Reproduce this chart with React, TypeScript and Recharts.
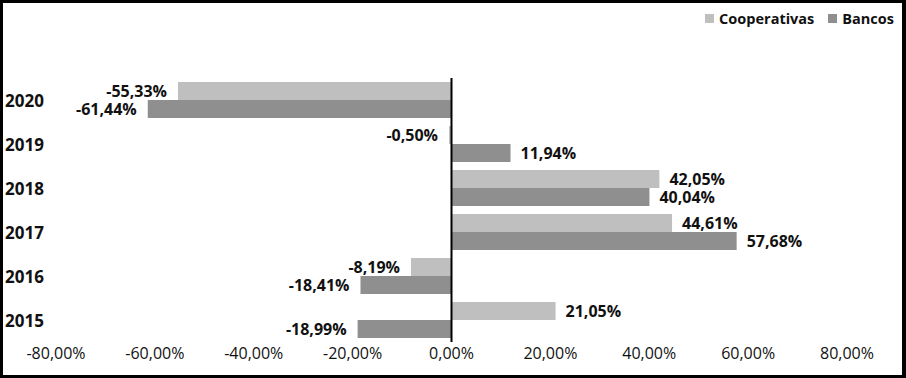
import { BarChart, Bar, XAxis, YAxis, ReferenceLine, LabelList, Legend } from 'recharts';

const years = ['2020', '2019', '2018', '2017', '2016', '2015'];
const cooperativas = [-55.33, -0.5, 42.05, 44.61, -8.19, 21.05];
const bancos = [-61.44, 11.94, 40.04, 57.68, -18.41, -18.99];
const xTicks = [-80, -60, -40, -20, 0, 20, 40, 60, 80];

const COOP_COLOR = '#bfbfbf';
const BANK_COLOR = '#8f8f8f';
const FONT = '"Open Sans", sans-serif';

const data = years.map((year, i) => ({
  year,
  Cooperativas: cooperativas[i],
  Bancos: bancos[i],
}));

const pct = (v: number) => v.toFixed(2).replace('.', ',') + '%';

function ValueLabel(props: any) {
  const x = Number(props.x);
  const y = Number(props.y);
  const width = Number(props.width);
  const height = Number(props.height);
  const value = Number(props.value);
  const neg = value < 0;
  const left = Math.min(x, x + width);
  const right = Math.max(x, x + width);
  return (
    <text
      x={neg ? left - 11 : right + 10}
      y={y + height / 2}
      textAnchor={neg ? 'end' : 'start'}
      dominantBaseline="central"
      fontFamily={FONT}
      fontWeight={700}
      fontSize={16}
      fill="#111"
    >
      {pct(value)}
    </text>
  );
}

function YearTick(props: any) {
  const { y, payload } = props;
  return (
    <text x={2} y={y} dominantBaseline="central" fontFamily={FONT} fontWeight={700} fontSize={17} fill="#111">
      {payload.value}
    </text>
  );
}

function LegendContent() {
  const items = [
    { name: 'Cooperativas', color: COOP_COLOR },
    { name: 'Bancos', color: BANK_COLOR },
  ];
  return (
    <div style={{ display: 'flex', justifyContent: 'flex-end', height: 20, alignItems: 'center', fontFamily: FONT, fontWeight: 700, fontSize: 14.5, color: '#111' }}>
      {items.map((it) => (
        <div key={it.name} style={{ display: 'flex', alignItems: 'center', marginLeft: 14 }}>
          <span style={{ width: 9, height: 9, background: it.color, marginRight: 5, display: 'inline-block' }} />
          <span>{it.name}</span>
        </div>
      ))}
    </div>
  );
}

export default function App() {
  return (
    <div
      style={{
        position: 'absolute',
        left: 0,
        top: 0,
        width: 906,
        height: 378,
        boxSizing: 'border-box',
        border: '3px solid #000',
        borderRightWidth: 4,
        background: '#fff',
      }}
    >
      <BarChart
        width={899}
        height={372}
        data={data}
        layout="vertical"
        margin={{ top: 55, right: 55, bottom: 3, left: 0 }}
        barCategoryGap={4}
        barGap={0}
      >
        <Legend verticalAlign="top" align="right" content={<LegendContent />} wrapperStyle={{ top: 5, right: 8, left: 'auto', width: 300 }} />
        <XAxis
          type="number"
          domain={[-80, 80]}
          ticks={xTicks}
          tickFormatter={pct}
          axisLine={false}
          tickLine={false}
          tickSize={0}
          tickMargin={6}
          height={30}
          tick={{ fontFamily: FONT, fontSize: 16, fill: '#111' }}
        />
        <YAxis type="category" dataKey="year" width={53} axisLine={false} tickLine={false} tick={<YearTick />} />
        <Bar dataKey="Cooperativas" fill={COOP_COLOR} isAnimationActive={false}>
          <LabelList dataKey="Cooperativas" content={<ValueLabel />} />
        </Bar>
        <Bar dataKey="Bancos" fill={BANK_COLOR} isAnimationActive={false}>
          <LabelList dataKey="Bancos" content={<ValueLabel />} />
        </Bar>
        <ReferenceLine x={0} stroke="#000" strokeWidth={2} />
      </BarChart>
    </div>
  );
}
